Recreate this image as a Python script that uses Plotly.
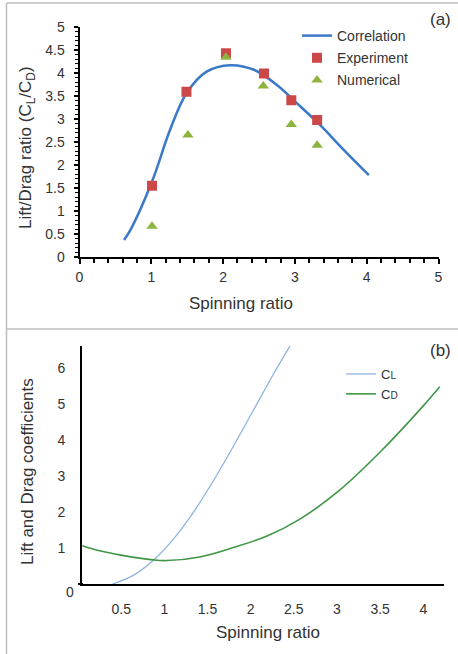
import plotly.graph_objects as go

W, H = 458, 654

# ---- Panel (a) data ----
corr_x = [0.62, 0.71, 1.01, 1.26, 1.49, 1.77, 2.10, 2.43, 2.75, 3.03, 3.35, 3.68, 4.03]
corr_y = [0.37, 0.59, 1.64, 2.76, 3.56, 4.03, 4.17, 4.07, 3.74, 3.34, 2.87, 2.33, 1.78]
exp_x = [1.01, 1.49, 2.04, 2.57, 2.95, 3.31]
exp_y = [1.55, 3.59, 4.43, 3.99, 3.41, 2.98]
num_x = [1.01, 1.51, 2.04, 2.56, 2.95, 3.31]
num_y = [0.67, 2.65, 4.34, 3.72, 2.88, 2.43]

# ---- Panel (b) data ----
cl_x = [0.40, 0.64, 0.87, 1.10, 1.34, 1.57, 1.80, 2.03, 2.25, 2.47]
cl_y = [0.0, 0.24, 0.65, 1.23, 2.00, 2.87, 3.82, 4.81, 5.76, 6.66]
cd_x = [0.05, 0.25, 0.50, 0.87, 1.03, 1.41, 1.80, 2.19, 2.57, 3.02, 3.50, 4.00, 4.19]
cd_y = [1.06, 0.92, 0.80, 0.67, 0.65, 0.75, 1.01, 1.33, 1.80, 2.58, 3.66, 4.94, 5.47]

top_ticks = [0, 1, 2, 3, 4, 5]
bot_xticks = [0.5, 1, 1.5, 2, 2.5, 3, 3.5, 4]
bot_yticks = [1, 2, 3, 4, 5, 6]

FONT = "Liberation Sans, Arial, sans-serif"
TXT = "#333333"


def px(x):
    return x / W


def py(y):
    return 1 - y / H


fig = go.Figure()

fig.add_trace(go.Scatter(x=corr_x, y=corr_y, mode="lines", name="Correlation",
                         line=dict(color="#3b78c8", width=2.5, shape="spline", smoothing=1.0),
                         xaxis="x", yaxis="y", legend="legend", legendgroup="a1"))
fig.add_trace(go.Scatter(x=exp_x, y=exp_y, mode="markers", name="Experiment",
                         marker=dict(symbol="square", size=10, color="#cc4848"),
                         xaxis="x", yaxis="y", legend="legend", legendgroup="a2"))
fig.add_trace(go.Scatter(x=num_x, y=num_y, mode="markers", name="Numerical",
                         marker=dict(symbol="triangle-up", size=10, color="#8db43e"),
                         xaxis="x", yaxis="y", legend="legend", legendgroup="a3"))

fig.add_trace(go.Scatter(x=cl_x, y=cl_y, mode="lines",
                         name='C<span style="font-size:10px">L</span>',
                         line=dict(color="#8db3e2", width=1.3, shape="spline", smoothing=1.0),
                         xaxis="x2", yaxis="y2", legend="legend2"))
fig.add_trace(go.Scatter(x=cd_x, y=cd_y, mode="lines",
                         name='C<span style="font-size:10px">D</span>',
                         line=dict(color="#3f9646", width=1.6, shape="spline", smoothing=1.0),
                         xaxis="x2", yaxis="y2", legend="legend2"))

axis_common = dict(showgrid=False, zeroline=False, showline=True, linecolor="#000000",
                   linewidth=2, automargin=False,
                   tickfont=dict(family=FONT, size=14, color=TXT))

fig.update_layout(
    width=W, height=H,
    margin=dict(l=0, r=0, t=0, b=0),
    paper_bgcolor="white", plot_bgcolor="white",
    font=dict(family=FONT, color=TXT),
    xaxis=dict(domain=[px(79.5), px(438.5)], range=[0, 5], anchor="y",
               tickvals=top_ticks, ticks="outside", ticklen=5, tickwidth=2, tickcolor="#000",
               minor=dict(dtick=0.2, ticks="outside", ticklen=4, tickwidth=1.5, tickcolor="#000"),
               ticklabelstandoff=1, **axis_common),
    yaxis=dict(domain=[py(257), py(27)], range=[0, 5], anchor="x",
               dtick=0.5, ticks="outside", ticklen=4, tickwidth=1.5, tickcolor="#000",
               minor=dict(dtick=0.1, ticks="outside", ticklen=3, tickwidth=1.2, tickcolor="#000"),
               ticklabelstandoff=6, **axis_common),
    xaxis2=dict(domain=[px(82), px(444)], range=[0.046, 4.24], anchor="y2",
                tickvals=bot_xticks, ticks="", ticklabelstandoff=11, **axis_common),
    yaxis2=dict(domain=[py(584), py(346)], range=[0, 6.6], anchor="x2",
                tickvals=bot_yticks, ticks="", ticklabelstandoff=12, **axis_common),
    legend=dict(x=px(297), y=py(20), xanchor="left", yanchor="top",
                font=dict(family=FONT, size=14, color=TXT), bgcolor="rgba(0,0,0,0)",
                tracegroupgap=1, borderwidth=0),
    legend2=dict(x=px(341), y=py(359), xanchor="left", yanchor="top",
                 font=dict(family=FONT, size=13, color=TXT), bgcolor="rgba(0,0,0,0)",
                 tracegroupgap=0, borderwidth=0),
    showlegend=True,
)

ann = [
    dict(text='Lift/Drag ratio (C<sub>L</sub>/C<sub>D</sub>)', x=px(27), y=py(148), textangle=-90,
         font=dict(size=17)),
    dict(text="Spinning ratio", x=px(241), y=py(303), font=dict(size=17)),
    dict(text="Lift and Drag coefficients", x=px(27), y=py(472), textangle=-90,
         font=dict(size=17)),
    dict(text="Spinning ratio", x=px(268), y=py(632), font=dict(size=17)),
    dict(text="(a)", x=px(440), y=py(20), font=dict(size=17)),
    dict(text="(b)", x=px(440), y=py(350), font=dict(size=17)),
    dict(text="0", x=px(70), y=py(592), font=dict(size=14)),
]
for a in ann:
    a.update(xref="paper", yref="paper", showarrow=False, xanchor="center", yanchor="middle")
    a["font"] = dict(family=FONT, color=TXT, **a["font"])
fig.update_layout(annotations=ann)

frame = "#bdbdbd"
shapes = [
    dict(type="line", xref="paper", yref="paper", x0=px(6.5), x1=px(6.5), y0=py(3), y1=0,
         line=dict(color=frame, width=1.5)),
    dict(type="line", xref="paper", yref="paper", x0=px(6.5), x1=1, y0=py(3), y1=py(3),
         line=dict(color=frame, width=1.5)),
    dict(type="line", xref="paper", yref="paper", x0=px(6.5), x1=1, y0=py(329), y1=py(329),
         line=dict(color=frame, width=1.5)),
    dict(type="line", xref="paper", yref="paper", x0=px(78), x1=px(83), y0=py(584), y1=py(584),
         line=dict(color="#000", width=2)),
]
fig.update_layout(shapes=shapes)

fig.write_html(
    "out.html",
    config={"displayModeBar": False},
    post_script="document.body.style.margin='0';document.body.style.padding='0';"
                "document.documentElement.style.overflow='hidden';document.body.style.overflow='hidden';",
)
